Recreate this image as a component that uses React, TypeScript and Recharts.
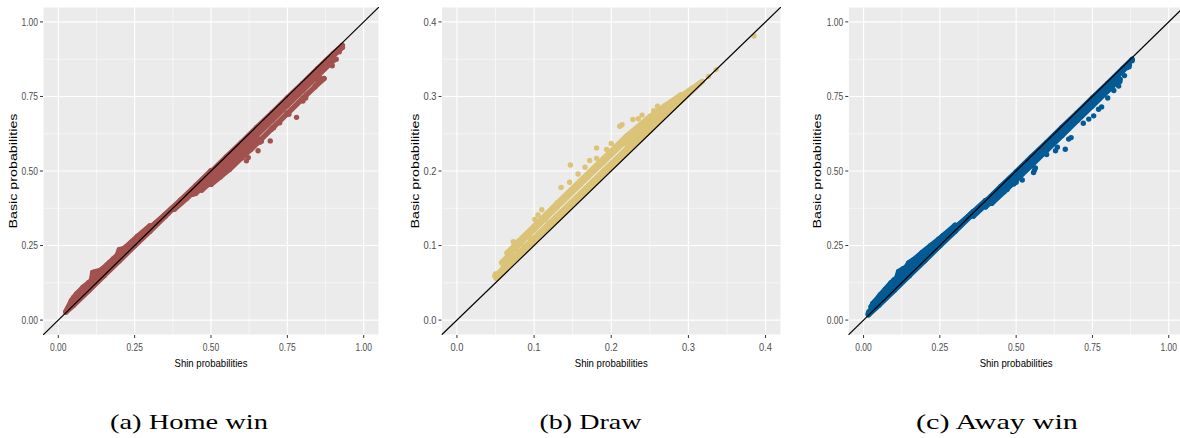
import React from 'react';
import { ScatterChart, Scatter, XAxis, YAxis, CartesianGrid, ReferenceLine } from 'recharts';

type P = [number, number];

// ---------- axis ticks ----------
const unitTicks = [0, 0.25, 0.5, 0.75, 1];
const unitMinor = [0.125, 0.375, 0.625, 0.875];
const unitLabels = ['0.00', '0.25', '0.50', '0.75', '1.00'];
const drawTicks = [0, 0.1, 0.2, 0.3, 0.4];
const drawMinor = [0.05, 0.15, 0.25, 0.35];
const drawLabels = ['0.0', '0.1', '0.2', '0.3', '0.4'];

// ---------- Home win (Shin, Basic) ----------
const homeStrandA: P[] = [[0.025,0.027],[0.05,0.05],[0.1,0.099],[0.15,0.149],[0.2,0.199],[0.25,0.249],[0.3,0.298],[0.35,0.348],[0.4,0.398],[0.45,0.448],[0.5,0.497],[0.55,0.547],[0.6,0.596],[0.65,0.646],[0.7,0.695],[0.75,0.745],[0.8,0.794],[0.85,0.844],[0.9,0.893],[0.93,0.921]];
const homeStrandB: P[] = [[0.026,0.03],[0.05,0.063],[0.1,0.113],[0.15,0.164],[0.2,0.214],[0.25,0.262],[0.3,0.309],[0.35,0.354],[0.4,0.402],[0.45,0.451],[0.5,0.501]];
const homeStrandC: P[] = [[0.03,0.038],[0.043,0.065],[0.06,0.088],[0.081,0.11],[0.1,0.126],[0.108,0.13],[0.113,0.16],[0.125,0.163],[0.14,0.168],[0.146,0.173],[0.16,0.185],[0.168,0.193],[0.19,0.21],[0.2,0.236],[0.215,0.24],[0.239,0.261],[0.26,0.279],[0.277,0.294],[0.3,0.31],[0.321,0.325],[0.36,0.36]];
const homeStrandG: P[] = [[0.03,0.035],[0.07,0.078],[0.12,0.128],[0.17,0.178],[0.22,0.228],[0.27,0.277],[0.32,0.326],[0.37,0.373]];
const homeStrandH: P[] = [[0.05,0.075],[0.08,0.105],[0.1,0.124],[0.14,0.166],[0.18,0.205],[0.22,0.243],[0.26,0.281],[0.3,0.316]];
const homeStrandD: P[] = [[0.38,0.372],[0.42,0.408],[0.46,0.446],[0.5,0.486],[0.55,0.536],[0.6,0.586],[0.65,0.636],[0.7,0.686],[0.75,0.736],[0.8,0.786],[0.85,0.836],[0.9,0.886],[0.93,0.915]];
const homeStrandJ: P[] = [[0.44,0.422],[0.5,0.48],[0.55,0.53],[0.6,0.58],[0.65,0.63],[0.7,0.68],[0.75,0.73],[0.8,0.78],[0.85,0.83],[0.9,0.88]];
const homeStrandE: P[] = [[0.45,0.425],[0.5,0.472],[0.55,0.52],[0.6,0.57],[0.65,0.62],[0.7,0.67],[0.75,0.72],[0.8,0.77],[0.85,0.82],[0.9,0.87]];
const homeStrandK: P[] = [[0.47,0.436],[0.5,0.464],[0.55,0.513],[0.6,0.563],[0.65,0.612]];
const homeStrandF: P[] = [[0.5,0.455],[0.53,0.48],[0.56,0.505],[0.6,0.544],[0.63,0.572],[0.66,0.602],[0.7,0.643],[0.75,0.693],[0.8,0.743],[0.84,0.782],[0.87,0.81]];
const homeOutliers: P[] = [[0.55,0.512],[0.58,0.53],[0.616,0.534],[0.622,0.545],[0.654,0.568],[0.66,0.596],[0.665,0.6],[0.694,0.601],[0.698,0.64],[0.705,0.645],[0.725,0.662],[0.749,0.694],[0.755,0.69],[0.78,0.68],[0.801,0.735],[0.81,0.745],[0.843,0.788],[0.85,0.802],[0.86,0.81],[0.897,0.853],[0.91,0.875],[0.92,0.9],[0.93,0.915]];

// ---------- Draw ----------
const drawStrandA: P[] = [[0.051,0.056],[0.07,0.075],[0.1,0.105],[0.13,0.135],[0.16,0.165],[0.19,0.195],[0.22,0.225],[0.25,0.254],[0.28,0.284],[0.3,0.303],[0.318,0.32]];
const drawStrandB: P[] = [[0.054,0.063],[0.07,0.08],[0.1,0.11],[0.13,0.14],[0.16,0.17],[0.19,0.2],[0.22,0.23],[0.25,0.259],[0.28,0.288],[0.305,0.309]];
const drawStrandC: P[] = [[0.058,0.077],[0.08,0.101],[0.1,0.121],[0.13,0.152],[0.16,0.182],[0.19,0.212],[0.22,0.242],[0.25,0.268],[0.28,0.293],[0.3,0.307],[0.315,0.318]];
const drawStrandD: P[] = [[0.065,0.09],[0.08,0.106],[0.1,0.126],[0.13,0.157],[0.16,0.187],[0.19,0.217],[0.22,0.247],[0.25,0.273],[0.27,0.288],[0.29,0.302]];
const drawStrandE: P[] = [[0.22,0.236],[0.25,0.264],[0.28,0.292],[0.305,0.311]];
const drawOutliers: P[] = [[0.049,0.059],[0.05,0.062],[0.06,0.071],[0.067,0.075],[0.073,0.105],[0.075,0.085],[0.08,0.092],[0.084,0.102],[0.094,0.111],[0.101,0.135],[0.105,0.141],[0.11,0.148],[0.115,0.135],[0.135,0.178],[0.146,0.185],[0.147,0.208],[0.157,0.196],[0.166,0.205],[0.172,0.214],[0.181,0.217],[0.181,0.231],[0.194,0.229],[0.2,0.237],[0.211,0.26],[0.214,0.262],[0.228,0.269],[0.235,0.27],[0.24,0.275],[0.255,0.281],[0.26,0.287],[0.326,0.327],[0.336,0.336],[0.385,0.381]];

// ---------- Away win ----------
const awayStrandA: P[] = [[0.016,0.018],[0.05,0.05],[0.1,0.099],[0.15,0.149],[0.2,0.199],[0.25,0.249],[0.3,0.298],[0.35,0.348],[0.4,0.398],[0.45,0.448],[0.5,0.497],[0.55,0.547],[0.6,0.596],[0.65,0.646],[0.7,0.695],[0.75,0.745],[0.8,0.794],[0.85,0.844],[0.88,0.874]];
const awayStrandF: P[] = [[0.016,0.022],[0.06,0.067],[0.12,0.127],[0.18,0.187],[0.24,0.247],[0.3,0.306],[0.36,0.364]];
const awayStrandB: P[] = [[0.018,0.028],[0.05,0.066],[0.1,0.116],[0.15,0.166],[0.2,0.216],[0.25,0.264],[0.3,0.31],[0.35,0.354],[0.4,0.401]];
const awayStrandG: P[] = [[0.03,0.055],[0.06,0.087],[0.1,0.127],[0.14,0.167],[0.18,0.206],[0.22,0.245],[0.26,0.283],[0.3,0.318]];
const awayStrandC: P[] = [[0.025,0.045],[0.038,0.063],[0.055,0.085],[0.071,0.103],[0.09,0.125],[0.1,0.135],[0.108,0.14],[0.115,0.163],[0.13,0.172],[0.14,0.178],[0.148,0.192],[0.165,0.203],[0.191,0.226],[0.22,0.25],[0.246,0.271],[0.27,0.29],[0.301,0.31],[0.33,0.335]];
const awayStrandD: P[] = [[0.36,0.349],[0.4,0.387],[0.45,0.437],[0.5,0.487],[0.55,0.537],[0.6,0.587],[0.65,0.637],[0.7,0.687],[0.75,0.737],[0.8,0.787],[0.85,0.837],[0.87,0.856]];
const awayStrandH: P[] = [[0.4,0.38],[0.45,0.428],[0.5,0.476],[0.55,0.526],[0.58,0.556]];
const awayStrandE: P[] = [[0.42,0.392],[0.46,0.43],[0.5,0.47],[0.55,0.519],[0.6,0.569],[0.65,0.619],[0.7,0.669],[0.75,0.719],[0.8,0.769],[0.84,0.808]];
const awayOutliers: P[] = [[0.47,0.438],[0.492,0.456],[0.5,0.462],[0.52,0.47],[0.557,0.495],[0.56,0.503],[0.563,0.51],[0.6,0.555],[0.629,0.568],[0.635,0.58],[0.661,0.573],[0.672,0.607],[0.68,0.612],[0.72,0.66],[0.738,0.674],[0.754,0.685],[0.77,0.707],[0.78,0.715],[0.8,0.745],[0.82,0.77],[0.836,0.785],[0.84,0.8],[0.855,0.82],[0.864,0.847],[0.87,0.85],[0.88,0.87]];

const captions = ['(a) Home win', '(b) Draw', '(c) Away win'];

const toPts = (a: P[]) => a.map(([x, y]) => ({ x, y }));

const tickFont = 'Liberation Sans, Arial, sans-serif';

type PanelProps = {
  width: number;
  height: number;
  right: number;
  yAxisWidth: number;
  domain: [number, number];
  ticks: number[];
  minor: number[];
  labels: string[];
  color: string;
  strands: P[][];
  outliers: P[];
  yTitleX: number;
};

function Panel(p: PanelProps) {
  const labelFor = (v: number) => {
    const i = p.ticks.findIndex((t) => Math.abs(t - v) < 1e-9);
    return i >= 0 ? p.labels[i] : String(v);
  };
  const tl = (s: string) => (s.length === 4 ? 16.5 : 13);
  const XTick = (props: any) => {
    const s = labelFor(props.payload.value);
    return (
      <text x={props.x} y={props.y + 10.5} textAnchor="middle" fontSize={10.5} fill="#4D4D4D"
        fontFamily={tickFont} textLength={tl(s)} lengthAdjust="spacingAndGlyphs">{s}</text>
    );
  };
  const YTick = (props: any) => {
    const s = labelFor(props.payload.value);
    return (
      <text x={props.x} y={props.y + 3.7} textAnchor="end" fontSize={10.5} fill="#4D4D4D"
        fontFamily={tickFont} textLength={tl(s)} lengthAdjust="spacingAndGlyphs">{s}</text>
    );
  };
  const dot = (s: any) => <circle cx={s.cx} cy={s.cy} r={2.7} fill={p.color} />;
  const diag = toPts([[p.domain[0], p.domain[0]], [p.domain[1], p.domain[1]]]);
  return (
    <ScatterChart width={p.width} height={p.height} margin={{ top: 7, right: p.right, bottom: 0, left: 0 }}>
      <CartesianGrid fill="#EBEBEB" stroke="#FFFFFF" strokeWidth={1.1} />
      {p.minor.map((v) => (
        <ReferenceLine key={'mx' + v} x={v} stroke="#FFFFFF" strokeWidth={0.55} />
      ))}
      {p.minor.map((v) => (
        <ReferenceLine key={'my' + v} y={v} stroke="#FFFFFF" strokeWidth={0.55} />
      ))}
      <XAxis type="number" dataKey="x" domain={p.domain} ticks={p.ticks} interval={0} allowDataOverflow
        height={p.height - 7 - 328} axisLine={false} tickSize={3} tickMargin={2}
        tickLine={{ stroke: '#333333', strokeWidth: 1 }} tick={<XTick />}
        label={{
          content: (lp: any) => {
            const vb = lp.viewBox;
            return (
              <text x={vb.x + vb.width / 2} y={vb.y + 31.5} textAnchor="middle" fontSize={11.5} fill="#000"
                fontFamily={tickFont} textLength={73} lengthAdjust="spacingAndGlyphs">Shin probabilities</text>
            );
          },
        }} />
      <YAxis type="number" dataKey="y" domain={p.domain} ticks={p.ticks} interval={0} allowDataOverflow
        width={p.yAxisWidth} axisLine={false} tickSize={3} tickMargin={2}
        tickLine={{ stroke: '#333333', strokeWidth: 1 }} tick={<YTick />}
        label={{
          content: (lp: any) => {
            const vb = lp.viewBox;
            const cx = vb.x + p.yTitleX;
            const cy = vb.y + vb.height / 2;
            return (
              <text x={cx} y={cy} transform={`rotate(-90 ${cx} ${cy})`} textAnchor="middle" fontSize={10}
                fill="#000" fontFamily={tickFont} textLength={115} lengthAdjust="spacingAndGlyphs">Basic probabilities</text>
            );
          },
        }} />
      {p.strands.map((s, i) => (
        <Scatter key={'s' + i} data={toPts(s)} fill={p.color} isAnimationActive={false} shape={dot}
          line={{ stroke: p.color, strokeWidth: 5.4, strokeLinecap: 'round', strokeLinejoin: 'round' }} />
      ))}
      <Scatter data={toPts(p.outliers)} fill={p.color} isAnimationActive={false} shape={dot} />
      <Scatter data={diag} fill="#000" isAnimationActive={false} shape={() => <g />}
        line={{ stroke: '#000000', strokeWidth: 1.2 }} />
    </ScatterChart>
  );
}

export default function App() {
  return (
    <div style={{ position: 'absolute', left: 0, top: 0, width: 1180, height: 438, overflow: 'hidden', background: '#fff' }}>
      <div style={{ position: 'absolute', left: 0, top: 0 }}>
        <Panel width={400} height={380} right={21} yAxisWidth={43} domain={[-0.05, 1.05]} ticks={unitTicks}
          minor={unitMinor} labels={unitLabels} color="#A1524F"
          strands={[homeStrandA, homeStrandG, homeStrandB, homeStrandH, homeStrandC, homeStrandD, homeStrandJ, homeStrandE, homeStrandK, homeStrandF]}
          outliers={homeOutliers} yTitleX={16.5} />
      </div>
      <div style={{ position: 'absolute', left: 400, top: 0 }}>
        <Panel width={400} height={380} right={19} yAxisWidth={41.5} domain={[-0.02, 0.42]} ticks={drawTicks}
          minor={drawMinor} labels={drawLabels} color="#DBC377"
          strands={[drawStrandA, drawStrandB, drawStrandC, drawStrandD, drawStrandE]}
          outliers={drawOutliers} yTitleX={18.5} />
      </div>
      <div style={{ position: 'absolute', left: 800, top: 0 }}>
        <Panel width={384} height={380} right={0} yAxisWidth={48.3} domain={[-0.05, 1.05]} ticks={unitTicks}
          minor={unitMinor} labels={unitLabels} color="#035A94"
          strands={[awayStrandA, awayStrandF, awayStrandB, awayStrandG, awayStrandC, awayStrandD, awayStrandH, awayStrandE]}
          outliers={awayOutliers} yTitleX={20.5} />
      </div>
      <svg style={{ position: 'absolute', left: 0, top: 0 }} width={1180} height={438}>
        {[
          { c: 189, w: 158 },
          { c: 590.5, w: 102 },
          { c: 997, w: 162 },
        ].map((d, i) => (
          <text key={i} x={d.c} y={429} textAnchor="middle" fontSize={21.5} fill="#000"
            fontFamily="Liberation Serif, Times New Roman, serif" textLength={d.w}
            lengthAdjust="spacingAndGlyphs">{captions[i]}</text>
        ))}
      </svg>
    </div>
  );
}
